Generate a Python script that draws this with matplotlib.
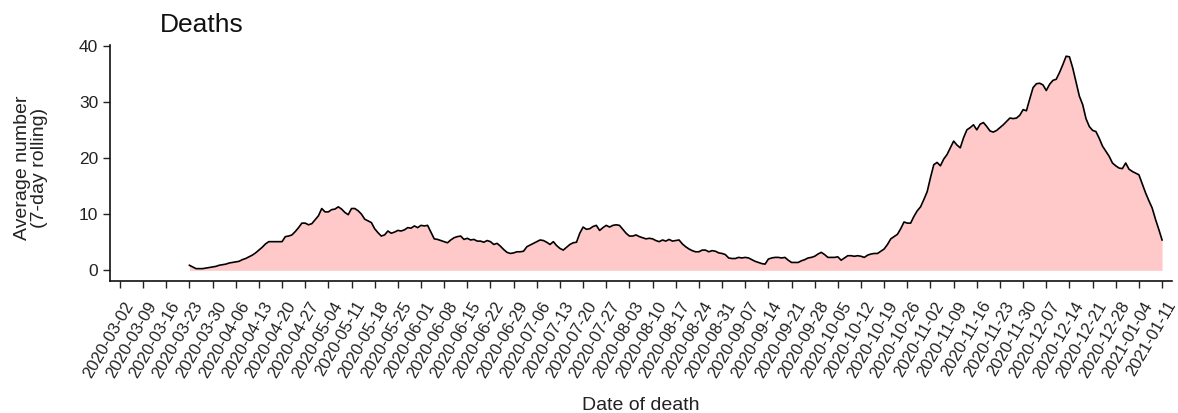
import matplotlib
matplotlib.use("Agg")
import matplotlib.pyplot as plt
import matplotlib.transforms as mtrans
import pandas as pd

# ---------------------------------------------------
# data: 7-day rolling average of deaths, one value per day from 2020-03-23
start_date = "2020-03-23"
deaths_avg = [
    0.9, 0.6, 0.3, 0.3, 0.3, 0.4, 0.5,        # Mar 23
    0.6, 0.7, 0.9, 1.0, 1.1, 1.3, 1.4,        # Mar 30
    1.5, 1.6, 1.9, 2.1, 2.4, 2.7, 3.1,        # Apr 06
    3.6, 4.1, 4.7, 5.1, 5.1, 5.1, 5.1,        # Apr 13
    5.1, 6.0, 6.1, 6.3, 6.9, 7.6, 8.4,        # Apr 20
    8.4, 8.1, 8.3, 9.0, 9.7, 11.0, 10.4,      # Apr 27
    10.4, 10.8, 10.9, 11.3, 10.9, 10.3, 9.9,  # May 04
    11.0, 11.0, 10.6, 10.0, 9.1, 8.8, 8.5,    # May 11
    7.4, 6.7, 6.1, 6.3, 7.0, 6.6, 6.8,        # May 18
    7.1, 7.0, 7.2, 7.6, 7.5, 7.9, 7.6,        # May 25
    8.0, 7.9, 8.0, 6.8, 5.6, 5.5, 5.3,        # Jun 01
    5.1, 4.9, 5.4, 5.8, 6.0, 6.1, 5.5,        # Jun 08
    5.7, 5.4, 5.5, 5.2, 5.2, 5.0, 5.3,        # Jun 15
    5.1, 4.6, 4.8, 4.3, 3.7, 3.2, 3.0,        # Jun 22
    3.1, 3.3, 3.3, 3.4, 4.2, 4.5, 4.8,        # Jun 29
    5.1, 5.4, 5.3, 5.0, 4.6, 5.1, 4.4,        # Jul 06
    3.9, 3.6, 4.1, 4.6, 4.9, 5.0, 6.6,        # Jul 13
    7.7, 7.3, 7.4, 7.8, 8.0, 7.1, 7.6,        # Jul 20
    8.0, 7.7, 8.0, 8.1, 8.0, 7.3, 6.6,        # Jul 27
    6.1, 6.1, 6.3, 6.0, 5.8, 5.6, 5.7,        # Aug 03
    5.6, 5.3, 5.1, 5.4, 5.2, 5.5, 5.2,        # Aug 10
    5.3, 5.4, 4.7, 4.2, 3.8, 3.5, 3.3,        # Aug 17
    3.3, 3.6, 3.6, 3.3, 3.5, 3.4, 3.1,        # Aug 24
    3.0, 2.8, 2.2, 2.1, 2.1, 2.3, 2.2,        # Aug 31
    2.3, 2.2, 1.9, 1.6, 1.4, 1.2, 1.1,        # Sep 07
    2.0, 2.2, 2.3, 2.3, 2.2, 2.3, 1.8,        # Sep 14
    1.4, 1.4, 1.4, 1.7, 1.9, 2.2, 2.3,        # Sep 21
    2.5, 2.9, 3.2, 2.8, 2.3, 2.3, 2.3,        # Sep 28
    2.4, 1.8, 2.2, 2.6, 2.6, 2.5, 2.6,        # Oct 05
    2.5, 2.3, 2.7, 2.9, 3.0, 3.0, 3.4,        # Oct 12
    3.8, 4.6, 5.6, 6.0, 6.4, 7.4, 8.6,        # Oct 19
    8.4, 8.4, 9.6, 10.6, 11.3, 12.6, 14.0,    # Oct 26
    16.5, 18.8, 19.2, 18.6, 19.8, 20.6, 21.8, # Nov 02
    23.0, 22.3, 21.8, 23.6, 25.0, 25.4, 25.9, # Nov 09
    25.0, 26.0, 26.3, 25.6, 24.8, 24.6, 24.9, # Nov 16
    25.4, 25.9, 26.5, 27.1, 27.0, 27.1, 27.6, # Nov 23
    28.6, 28.4, 30.5, 32.5, 33.2, 33.3, 33.0, # Nov 30
    32.0, 33.1, 33.8, 34.0, 35.2, 36.6, 38.1, # Dec 07
    38.0, 36.0, 33.5, 31.0, 29.5, 27.0, 25.6, # Dec 14
    24.9, 24.7, 23.5, 22.1, 21.2, 20.3, 19.1, # Dec 21
    18.6, 18.2, 18.1, 19.1, 18.0, 17.6, 17.3, # Dec 28
    17.0, 15.4, 13.8, 12.4, 11.1, 9.1, 7.3,   # Jan 04
    5.4,                                      # Jan 11
]
dates = pd.date_range(start_date, periods=len(deaths_avg), freq="D")

# weekly ticks on the date axis
tick_dates = pd.date_range("2020-03-02", "2021-01-11", freq="7D")
y_ticks = [0, 10, 20, 30, 40]

# ---------------------------------------------------
plt.rcParams["font.family"] = ["Liberation Sans", "DejaVu Sans"]

fig = plt.figure(figsize=(11.78, 4.13), dpi=100)
ax = fig.add_axes([110 / 1178, 1 - 281 / 413, 1062 / 1178, 236 / 413])

ax.fill_between(dates, 0, deaths_avg, color="#FFC9C9", linewidth=0)
ax.plot(dates, deaths_avg, color="black", linewidth=1.2)

pad = pd.Timedelta(days=3)
ax.set_xlim(tick_dates[0] - pad, tick_dates[-1] + pad)
ax.set_ylim(-1.9, 40.1)

ax.set_xticks(tick_dates)
ax.set_xticklabels([d.strftime("%Y-%m-%d") for d in tick_dates],
                   rotation=60, ha="right", va="center",
                   rotation_mode="anchor", fontsize=12, color="#222222")
ax.set_yticks(y_ticks)
ax.set_yticklabels([str(v) for v in y_ticks], fontsize=12.5, color="#222222")
ax.tick_params(axis="both", length=5, width=1, color="#222222")
ax.tick_params(axis="x", pad=4)

# nudge the rotated labels right/down so their ends sit like the original
# (done after tick_params, which resets the label transforms)
shift = mtrans.ScaledTranslation(0.10, -0.09, fig.dpi_scale_trans)
for lab in ax.get_xticklabels():
    lab.set_transform(lab.get_transform() + shift)

for side in ["top", "right"]:
    ax.spines[side].set_visible(False)
for side in ["left", "bottom"]:
    ax.spines[side].set_linewidth(1.2)
    ax.spines[side].set_color("#111111")

ax.set_xlabel("Date of death", fontsize=14, color="#222222")
ax.xaxis.set_label_coords(0.5, -0.49)
ax.set_ylabel("Average number\n(7-day rolling)", fontsize=14, color="#222222",
              linespacing=1.05)
ax.yaxis.set_label_coords(-0.058, 0.48)

fig.text(160 / 1178, 1 - 32 / 413, "Deaths", fontsize=19, color="#111111")

fig.savefig("out.png", dpi=100)
